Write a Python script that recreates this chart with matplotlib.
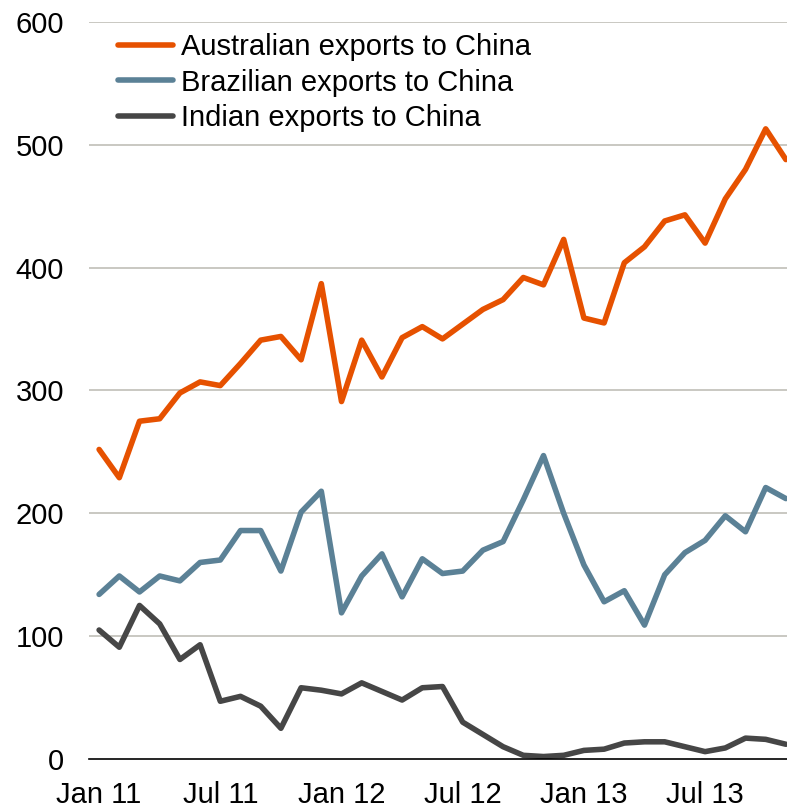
import matplotlib
matplotlib.use('Agg')
import matplotlib.pyplot as plt

plt.rcParams['font.family'] = ['Liberation Sans', 'DejaVu Sans']

# monthly data, Jan 11 .. Nov 13
months = ['Jan 11', 'Feb 11', 'Mar 11', 'Apr 11', 'May 11', 'Jun 11',
          'Jul 11', 'Aug 11', 'Sep 11', 'Oct 11', 'Nov 11', 'Dec 11',
          'Jan 12', 'Feb 12', 'Mar 12', 'Apr 12', 'May 12', 'Jun 12',
          'Jul 12', 'Aug 12', 'Sep 12', 'Oct 12', 'Nov 12', 'Dec 12',
          'Jan 13', 'Feb 13', 'Mar 13', 'Apr 13', 'May 13', 'Jun 13',
          'Jul 13', 'Aug 13', 'Sep 13', 'Oct 13', 'Nov 13']

australia = [252, 229, 275, 277, 298, 307, 304, 322, 341, 344, 325, 387,
             291, 341, 311, 343, 352, 342, 354, 366, 374, 392, 386, 423,
             359, 355, 404, 417, 438, 443, 420, 456, 480, 513, 488]

brazil = [134, 149, 136, 149, 145, 160, 162, 186, 186, 153, 201, 218,
          119, 149, 167, 132, 163, 151, 153, 170, 177, 211, 247, 200,
          158, 128, 137, 109, 150, 168, 178, 198, 185, 221, 212]

india = [105, 91, 125, 110, 81, 93, 47, 51, 43, 25, 58, 56,
         53, 62, 55, 48, 58, 59, 30, 20, 10, 3, 2, 3,
         7, 8, 13, 14, 14, 10, 6, 9, 17, 16, 12]

x = list(range(len(months)))

fig = plt.figure(figsize=(7.87, 8.08), dpi=100)
ax = fig.add_axes([89 / 787, 49 / 808, 707 / 787, 737 / 808])

ax.plot(x, australia, color='#E65100', lw=4, label='Australian exports to China', solid_capstyle='round')
ax.plot(x, brazil, color='#5B8196', lw=4, label='Brazilian exports to China', solid_capstyle='round')
ax.plot(x, india, color='#464646', lw=4, label='Indian exports to China', solid_capstyle='round')

ax.set_xlim(-0.5, 34.5)
ax.set_ylim(0, 600)
ax.set_yticks(range(0, 601, 100))
ax.set_xticks(x[::6])
ax.set_xticklabels(months[::6])

for v in range(100, 601, 100):
    ax.axhline(v, color='#C0BFB8', lw=1.2, zorder=0)

for s in ['top', 'right', 'left']:
    ax.spines[s].set_visible(False)
ax.spines['bottom'].set_color('black')
ax.spines['bottom'].set_linewidth(1.2)

ax.tick_params(axis='both', length=0, labelsize=21)
ax.tick_params(axis='y', pad=18)
ax.tick_params(axis='x', pad=16)

ax.legend(loc='upper left', bbox_to_anchor=(118 / 787, 1 - 33 / 808),
          bbox_transform=fig.transFigure, frameon=False, fontsize=21,
          handlelength=1.9, handletextpad=0.25, labelspacing=0.26,
          borderpad=0, borderaxespad=0)

plt.savefig('out.png', dpi=100)
